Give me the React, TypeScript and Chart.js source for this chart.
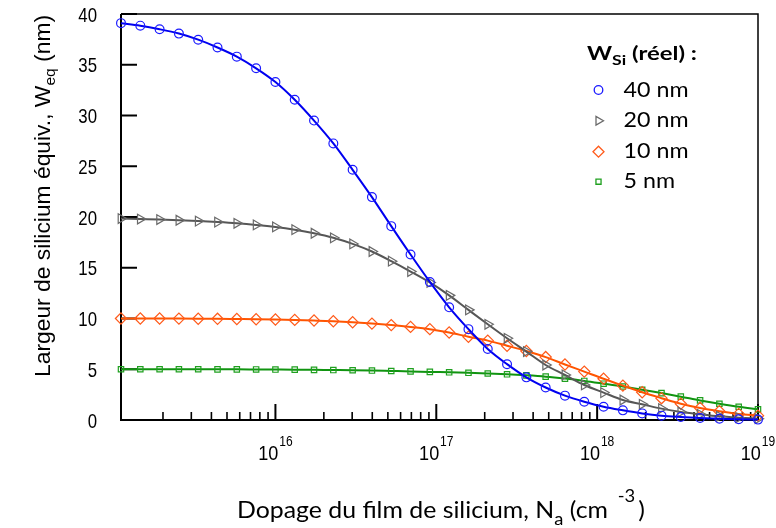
import React, { useEffect, useRef } from 'react';
import { Chart, registerables } from 'chart.js';

Chart.register(...registerables);

// ---- Data ----
// log10 of doping Na (cm^-3) for each measured point
const dopingExponents = [
  15.04, 15.16, 15.28, 15.4, 15.52, 15.64, 15.76, 15.88, 16.0, 16.12, 16.24, 16.36,
  16.48, 16.6, 16.72, 16.84, 16.96, 17.08, 17.2, 17.32, 17.44, 17.56, 17.68, 17.8,
  17.92, 18.04, 18.16, 18.28, 18.4, 18.52, 18.64, 18.76, 18.88, 19.0,
];
const w40 = [
  39.1, 38.85, 38.5, 38.07, 37.47, 36.7, 35.8, 34.65, 33.3, 31.55, 29.5, 27.25, 24.65,
  21.96, 19.1, 16.3, 13.6, 11.1, 8.95, 7.0, 5.5, 4.2, 3.2, 2.4, 1.8, 1.3, 0.95, 0.65,
  0.43, 0.3, 0.2, 0.12, 0.07, 0.04,
];
const w20 = [
  19.85, 19.8, 19.75, 19.68, 19.6, 19.5, 19.38, 19.22, 19.02, 18.75, 18.4, 17.95, 17.35,
  16.6, 15.65, 14.63, 13.55, 12.28, 10.85, 9.43, 8.05, 6.74, 5.42, 4.44, 3.45, 2.7, 1.97,
  1.55, 1.12, 0.79, 0.56, 0.36, 0.23, 0.13,
];
const w10 = [
  10.0, 10.0, 10.0, 9.99, 9.98, 9.97, 9.95, 9.93, 9.9, 9.86, 9.8, 9.73, 9.63, 9.5, 9.35,
  9.17, 8.95, 8.62, 8.2, 7.82, 7.32, 6.8, 6.2, 5.47, 4.77, 4.06, 3.39, 2.73, 2.15, 1.6,
  1.18, 0.86, 0.6, 0.43,
];
const w5 = [
  5.0, 5.0, 5.0, 5.0, 5.0, 4.99, 4.99, 4.98, 4.97, 4.96, 4.94, 4.92, 4.9, 4.87, 4.83,
  4.79, 4.74, 4.7, 4.65, 4.58, 4.5, 4.4, 4.27, 4.08, 3.85, 3.58, 3.3, 2.98, 2.65, 2.3,
  1.93, 1.6, 1.3, 1.05,
];
const seriesLabels = ['40 nm', '20 nm', '10 nm', '5 nm'];
const yTickValues = [0, 5, 10, 15, 20, 25, 30, 35, 40];
const xMajorExponents = [16, 17, 18, 19];
const xMinorMultipliers = [2, 3, 4, 5, 6, 7, 8, 9];
const xMinExponent = 15.04;
const xMaxExponent = 19;
const legendTitle = ['W', 'Si', ' (réel) :'];
const xTitleParts = ['Dopage du film de silicium, N', 'a', ' (cm', '-3', ')'];
const yTitleParts = ['Largeur de silicium équiv., W', 'eq', ' (nm)'];

// ---- Styles ----
const lineColors = ['#0000f0', '#565656', '#ff5500', '#109410'];
const markerColors = ['#1a1aff', '#6a6a6a', '#ff5a1a', '#1fa01f'];
const markerStyles = ['circle', 'triangle', 'rectRot', 'rect'];
const markerRadius = [4.4, 5.6, 5.6, 3.8];
const markerRotation = [0, 90, 0, 0];

type Part = { text: string; font: string; dy?: number; gap?: number };

function measureParts(ctx: CanvasRenderingContext2D, parts: Part[]) {
  let total = 0;
  for (const p of parts) {
    ctx.font = p.font;
    total += ctx.measureText(p.text).width + (p.gap || 0);
  }
  return total;
}

function drawParts(
  ctx: CanvasRenderingContext2D,
  parts: Part[],
  x: number,
  y: number,
  scaleX: number,
  align: 'left' | 'center' | 'right'
) {
  const total = measureParts(ctx, parts);
  ctx.save();
  ctx.translate(x, y);
  ctx.scale(scaleX, 1);
  let cx = align === 'center' ? -total / 2 : align === 'right' ? -total : 0;
  ctx.textAlign = 'left';
  ctx.textBaseline = 'alphabetic';
  for (const p of parts) {
    cx += p.gap || 0;
    ctx.font = p.font;
    ctx.fillText(p.text, cx, p.dy || 0);
    cx += ctx.measureText(p.text).width;
  }
  ctx.restore();
}

function fitScale(ctx: CanvasRenderingContext2D, parts: Part[], target: number) {
  return target / measureParts(ctx, parts);
}

function drawMarker(ctx: CanvasRenderingContext2D, style: string, x: number, y: number, r: number) {
  ctx.beginPath();
  if (style === 'circle') {
    ctx.arc(x, y, r, 0, Math.PI * 2);
  } else if (style === 'triangle') {
    ctx.moveTo(x + r, y);
    ctx.lineTo(x - r * 0.5, y - r * 0.866);
    ctx.lineTo(x - r * 0.5, y + r * 0.866);
    ctx.closePath();
  } else if (style === 'rectRot') {
    ctx.moveTo(x - r, y);
    ctx.lineTo(x, y - r);
    ctx.lineTo(x + r, y);
    ctx.lineTo(x, y + r);
    ctx.closePath();
  } else {
    const s = r * Math.SQRT1_2;
    ctx.rect(x - s, y - s, 2 * s, 2 * s);
  }
  ctx.stroke();
}

const framePlugin = {
  id: 'frameAndText',
  beforeDatasetsDraw(chart: any) {
    const { ctx, chartArea } = chart;
    const xs = chart.scales.x;
    const ys = chart.scales.y;
    const { left, right, top, bottom } = chartArea;
    ctx.save();
    ctx.strokeStyle = '#000';
    ctx.lineWidth = 1.5;
    ctx.beginPath();
    ctx.moveTo(left, top);
    ctx.lineTo(right, top);
    ctx.lineTo(right, bottom);
    ctx.stroke();
    ctx.lineWidth = 2;
    ctx.beginPath();
    ctx.moveTo(left, top);
    ctx.lineTo(left, bottom);
    ctx.lineTo(right, bottom);
    ctx.stroke();
    for (const v of yTickValues) {
      const py = ys.getPixelForValue(v);
      ctx.beginPath();
      ctx.moveTo(left, py);
      ctx.lineTo(left + 16, py);
      ctx.stroke();
    }
    for (const e of xMajorExponents) {
      const px = xs.getPixelForValue(Math.pow(10, e));
      ctx.lineWidth = 2;
      ctx.beginPath();
      ctx.moveTo(px, bottom);
      ctx.lineTo(px, bottom - 16);
      ctx.stroke();
    }
    ctx.lineWidth = 1.6;
    for (let e = 15; e < 19; e++) {
      for (const m of xMinorMultipliers) {
        const val = m * Math.pow(10, e);
        if (Math.log10(val) < xMinExponent) continue;
        const px = xs.getPixelForValue(val);
        ctx.beginPath();
        ctx.moveTo(px, bottom);
        ctx.lineTo(px, bottom - 8);
        ctx.stroke();
      }
    }
    ctx.restore();
  },
  afterDraw(chart: any) {
    const { ctx } = chart;
    const xs = chart.scales.x;
    const ys = chart.scales.y;
    ctx.save();
    ctx.fillStyle = '#000';
    for (const v of yTickValues) {
      const py = ys.getPixelForValue(v);
      drawParts(ctx, [{ text: String(v), font: '21px "Liberation Sans"' }], 97, py + 7.6, 0.8, 'right');
    }
    for (const e of xMajorExponents) {
      const px = xs.getPixelForValue(Math.pow(10, e));
      drawParts(
        ctx,
        [
          { text: '10', font: '21px "Liberation Sans"' },
          { text: String(e), font: '14px "Liberation Sans"', dy: -14, gap: 1 },
        ],
        px,
        459.5,
        0.86,
        'center'
      );
    }
    const xParts: Part[] = [
      { text: xTitleParts[0], font: '23px Lato' },
      { text: xTitleParts[1], font: '17px Lato', dy: 7 },
      { text: xTitleParts[2], font: '23px Lato' },
      { text: xTitleParts[3], font: '17px Lato', dy: -16, gap: 9 },
      { text: xTitleParts[4], font: '23px Lato', gap: 3 },
    ];
    drawParts(ctx, xParts, 237, 518, fitScale(ctx, xParts, 408), 'left');
    const yParts: Part[] = [
      { text: yTitleParts[0], font: '22px "Liberation Sans"' },
      { text: yTitleParts[1], font: '15px "Liberation Sans"', dy: 5 },
      { text: yTitleParts[2], font: '22px "Liberation Sans"' },
    ];
    const yLen = measureParts(ctx, yParts);
    ctx.save();
    ctx.translate(50, 196);
    ctx.rotate(-Math.PI / 2);
    drawParts(ctx, yParts, 0, 0, 362 / yLen, 'center');
    ctx.restore();
    const lParts: Part[] = [
      { text: legendTitle[0], font: 'bold 19px Lato' },
      { text: legendTitle[1], font: 'bold 14px Lato', dy: 5 },
      { text: legendTitle[2], font: 'bold 19px Lato' },
    ];
    drawParts(ctx, lParts, 587, 59.5, fitScale(ctx, lParts, 110), 'left');
    const itemScale = fitScale(ctx, [{ text: seriesLabels[0], font: '21px Lato' }], 65);
    const rowY = [90, 120.7, 151.7, 181.7];
    const legendR = [4.3, 5, 5.5, 3.6];
    for (let i = 0; i < seriesLabels.length; i++) {
      ctx.strokeStyle = markerColors[i];
      ctx.lineWidth = 1.3;
      drawMarker(ctx, markerStyles[i], 598.5, rowY[i], legendR[i]);
      ctx.fillStyle = '#000';
      drawParts(ctx, [{ text: seriesLabels[i], font: '21px Lato' }], 623.5, rowY[i] + 6.7, itemScale, 'left');
    }
    ctx.restore();
  },
};

export default function App() {
  const canvasRef = useRef<HTMLCanvasElement | null>(null);

  useEffect(() => {
    document.body.style.margin = '0';
    const canvas = canvasRef.current;
    if (!canvas) return;
    const seriesValues = [w40, w20, w10, w5];
    const datasets = seriesValues.map((vals, i) => ({
      label: seriesLabels[i],
      data: vals.map((v, k) => ({ x: Math.pow(10, dopingExponents[k]), y: v })),
      borderColor: lineColors[i],
      borderWidth: 2,
      backgroundColor: 'transparent',
      pointStyle: markerStyles[i],
      pointRadius: markerRadius[i],
      pointRotation: markerRotation[i],
      pointBorderColor: markerColors[i],
      pointBackgroundColor: 'transparent',
      pointBorderWidth: 1.2,
      cubicInterpolationMode: 'monotone' as const,
      fill: false,
      clip: false as any,
    }));
    const chart = new Chart(canvas, {
      type: 'line',
      data: { datasets },
      options: {
        animation: false,
        responsive: false,
        devicePixelRatio: 1,
        layout: { padding: { left: 121, right: 18, top: 14, bottom: 108 } },
        plugins: { legend: { display: false }, tooltip: { enabled: false }, title: { display: false } },
        scales: {
          x: {
            type: 'logarithmic',
            display: false,
            min: Math.pow(10, xMinExponent),
            max: Math.pow(10, xMaxExponent),
          },
          y: { type: 'linear', display: false, min: 0, max: 40 },
        },
      },
      plugins: [framePlugin],
    });
    return () => chart.destroy();
  }, []);

  return (
    <div style={{ width: 776, height: 528, background: '#fff' }}>
      <canvas ref={canvasRef} width={776} height={528} style={{ display: 'block' }} />
    </div>
  );
}
